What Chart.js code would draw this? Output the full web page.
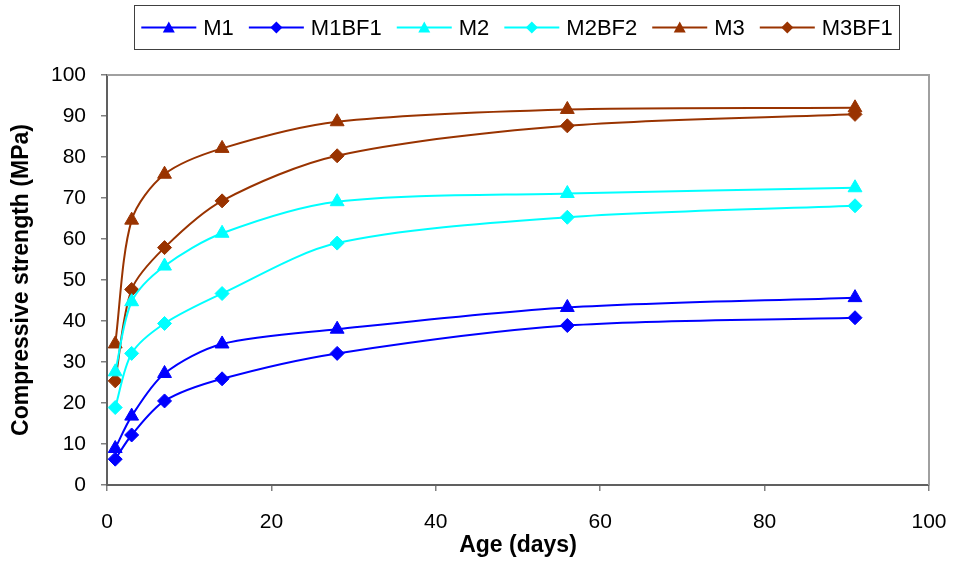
<!DOCTYPE html>
<html>
<head>
<meta charset="utf-8">
<script src="https://cdn.jsdelivr.net/npm/chart.js@4/dist/chart.umd.min.js"></script>
<style>
  html, body { margin: 0; padding: 0; background: #fff; }
  #wrap { width: 953px; height: 569px; }
</style>
</head>
<body>
<div id="wrap"><canvas id="c" width="953" height="569"></canvas></div>
<script>
  // ages (days) and strengths (MPa)
  const AGES = [1, 3, 7, 14, 28, 56, 91];
  const M1    = [8.9, 16.8, 27.2, 34.4, 38.0, 43.3, 45.7];
  const M1BF1 = [6.3, 12.2, 20.5, 25.9, 32.1, 38.9, 40.8];
  const M2    = [27.6, 44.7, 53.4, 61.4, 69.1, 71.1, 72.5];
  const M2BF2 = [18.9, 32.1, 39.4, 46.7, 59.0, 65.3, 68.1];
  const M3    = [34.4, 64.6, 75.8, 82.1, 88.6, 91.6, 92.0];
  const M3BF1 = [25.4, 47.7, 57.9, 69.3, 80.3, 87.6, 90.4];

  const SERIES = [
    { label: 'M1',    values: M1,    color: '#0000ff', marker: 'triangle' },
    { label: 'M1BF1', values: M1BF1, color: '#0000ff', marker: 'rectRot' },
    { label: 'M2',    values: M2,    color: '#00ffff', marker: 'triangle' },
    { label: 'M2BF2', values: M2BF2, color: '#00ffff', marker: 'rectRot' },
    { label: 'M3',    values: M3,    color: '#993300', marker: 'triangle' },
    { label: 'M3BF1', values: M3BF1, color: '#993300', marker: 'rectRot' }
  ];

  const FONT = "'Liberation Sans', Arial, sans-serif";
  const AXIS = '#606060', TICK = '#808080', FRAME = '#a0a0a0';

  // gray frame on top and right of the plot, like the original
  const frame = {
    id: 'frame',
    afterDraw(chart) {
      const { ctx, chartArea: a } = chart;
      ctx.save();
      ctx.strokeStyle = FRAME;
      ctx.lineWidth = 2;
      ctx.beginPath();
      ctx.moveTo(a.left, a.top);
      ctx.lineTo(a.right, a.top);
      ctx.lineTo(a.right, a.bottom);
      ctx.stroke();
      ctx.restore();
    }
  };

  // boxed legend with line + marker samples
  const boxLegend = {
    id: 'boxLegend',
    afterDraw(chart) {
      const ctx = chart.ctx;
      const box = { x: 134.5, y: 5.5, w: 765, h: 44 };
      const LINE = 55, GAP = 7, SEP = 15, cy = box.y + box.h / 2;
      ctx.save();
      ctx.font = '22px ' + FONT;
      const widths = SERIES.map(s => ctx.measureText(s.label).width);
      const total = SERIES.length * (LINE + GAP) + widths.reduce((a, b) => a + b, 0) + (SERIES.length - 1) * SEP;
      let x = box.x + (box.w - total) / 2;

      ctx.strokeStyle = '#404040';
      ctx.lineWidth = 1;
      ctx.strokeRect(box.x, box.y, box.w, box.h);

      SERIES.forEach((s, i) => {
        ctx.strokeStyle = s.color;
        ctx.lineWidth = 2;
        ctx.beginPath();
        ctx.moveTo(x, cy);
        ctx.lineTo(x + LINE, cy);
        ctx.stroke();
        const mx = x + LINE / 2;
        ctx.fillStyle = s.color;
        ctx.beginPath();
        if (s.marker === 'triangle') {
          ctx.moveTo(mx, cy - 6);
          ctx.lineTo(mx + 6, cy + 5);
          ctx.lineTo(mx - 6, cy + 5);
        } else {
          ctx.moveTo(mx, cy - 6);
          ctx.lineTo(mx + 6, cy);
          ctx.lineTo(mx, cy + 6);
          ctx.lineTo(mx - 6, cy);
        }
        ctx.closePath();
        ctx.fill();
        ctx.fillStyle = '#000';
        ctx.textBaseline = 'middle';
        ctx.textAlign = 'left';
        ctx.fillText(s.label, x + LINE + GAP, cy + 1);
        x += LINE + GAP + widths[i] + SEP;
      });
      ctx.restore();
    }
  };

  new Chart(document.getElementById('c'), {
    type: 'line',
    data: {
      datasets: SERIES.map(s => ({
        label: s.label,
        data: AGES.map((d, i) => ({ x: d, y: s.values[i] })),
        borderColor: s.color,
        backgroundColor: s.color,
        borderWidth: 2,
        pointStyle: s.marker,
        pointRadius: s.marker === 'triangle' ? 8 : 7,
        pointBorderWidth: 1,
        pointBackgroundColor: s.color,
        pointBorderColor: s.color,
        tension: 0.3,
        fill: false
      }))
    },
    options: {
      responsive: false,
      animation: false,
      layout: { padding: { top: 75, right: 24, left: 0, bottom: 0 } },
      scales: {
        x: {
          type: 'linear',
          min: 0, max: 100,
          afterFit: s => { s.height = 84; s.paddingLeft = 0; s.paddingRight = 0; },
          ticks: { stepSize: 20, color: '#000', padding: 19, font: { family: FONT, size: 21 } },
          grid: { drawOnChartArea: false, drawTicks: true, tickLength: 6, color: TICK, lineWidth: 1.5 },
          border: { display: true, color: AXIS, width: 2 },
          title: {
            display: true, text: 'Age (days)', color: '#000',
            padding: { top: 0, bottom: 10 },
            font: { family: FONT, size: 23, weight: 'bold' }
          }
        },
        y: {
          min: 0, max: 100,
          afterFit: s => { s.width = 107; s.paddingTop = 0; s.paddingBottom = 0; },
          ticks: { stepSize: 10, color: '#000', padding: 15, font: { family: FONT, size: 21 } },
          grid: { drawOnChartArea: false, drawTicks: true, tickLength: 6, color: TICK, lineWidth: 1.5 },
          border: { display: true, color: AXIS, width: 2 },
          title: {
            display: true, text: 'Compressive strength (MPa)', color: '#000',
            padding: { top: 8, bottom: 0 },
            font: { family: FONT, size: 23, weight: 'bold' }
          }
        }
      },
      plugins: {
        legend: { display: false },
        tooltip: { enabled: false }
      }
    },
    plugins: [frame, boxLegend]
  });
</script>
</body>
</html>
